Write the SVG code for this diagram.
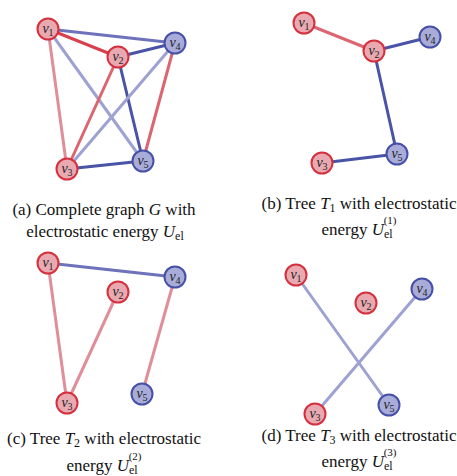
<svg xmlns="http://www.w3.org/2000/svg" width="457" height="476" viewBox="0 0 457 476">
<style>
.e{fill:none;stroke-width:3;stroke-linecap:round}
.rs{stroke:#d8404e}
.rm{stroke:#dc6572}
.rl{stroke:#e08e98}
.bs{stroke:#4a54a6}
.bm{stroke:#6d72ba}
.bl{stroke:#9ea2d2}
.nr circle{fill:#e8a9b1;stroke:#d5303e;stroke-width:2}
.nb circle{fill:#a9acd9;stroke:#4550a6;stroke-width:2}
.lab{font-size:14px;fill:#222;text-anchor:middle}
.cap{font-size:17px;fill:#111;text-anchor:middle}
</style>
<rect width="457" height="476" fill="#fff"/>
<g font-family="'Liberation Serif', 'Times New Roman', serif">
<!-- Panel a -->
<g id="edges-a">
<line class="e rl" x1="48" y1="29" x2="67" y2="169"/>
<line class="e bl" x1="48" y1="29" x2="143" y2="161"/>
<line class="e bm" x1="48" y1="29" x2="175" y2="43"/>
<line class="e rs" x1="48" y1="29" x2="118" y2="57"/>
<line class="e rm" x1="118" y1="57" x2="67" y2="169"/>
<line class="e bs" x1="118" y1="57" x2="143" y2="161"/>
<line class="e bs" x1="118" y1="57" x2="175" y2="43"/>
<line class="e bl" x1="175" y1="43" x2="67" y2="169"/>
<line class="e rm" x1="175" y1="43" x2="143" y2="161"/>
<line class="e bs" x1="67" y1="169" x2="143" y2="161"/>
</g>
<g id="a-v1" class="nr"><circle cx="48" cy="29" r="10.5"/><text class="lab" x="48" y="33"><tspan font-style="italic">v</tspan><tspan font-size="10" dy="3">1</tspan></text></g>
<g id="a-v2" class="nr"><circle cx="118" cy="57" r="10.5"/><text class="lab" x="118" y="61"><tspan font-style="italic">v</tspan><tspan font-size="10" dy="3">2</tspan></text></g>
<g id="a-v3" class="nr"><circle cx="67" cy="169" r="10.5"/><text class="lab" x="67" y="173"><tspan font-style="italic">v</tspan><tspan font-size="10" dy="3">3</tspan></text></g>
<g id="a-v4" class="nb"><circle cx="175" cy="43" r="10.5"/><text class="lab" x="175" y="47"><tspan font-style="italic">v</tspan><tspan font-size="10" dy="3">4</tspan></text></g>
<g id="a-v5" class="nb"><circle cx="143" cy="161" r="10.5"/><text class="lab" x="143" y="165"><tspan font-style="italic">v</tspan><tspan font-size="10" dy="3">5</tspan></text></g>
<text class="cap" x="104" y="215">(a) Complete graph <tspan font-style="italic">G</tspan> with</text>
<text class="cap" x="105" y="237">electrostatic energy <tspan font-style="italic">U</tspan><tspan font-size="12" dy="3">el</tspan></text>

<!-- Panel b -->
<g id="edges-b">
<line class="e rm" x1="304" y1="23" x2="374" y2="51"/>
<line class="e bs" x1="374" y1="51" x2="430" y2="37"/>
<line class="e bs" x1="374" y1="51" x2="397" y2="154"/>
<line class="e bs" x1="322" y1="163" x2="397" y2="154"/>
</g>
<g id="b-v1" class="nr"><circle cx="304" cy="23" r="10.5"/><text class="lab" x="304" y="27"><tspan font-style="italic">v</tspan><tspan font-size="10" dy="3">1</tspan></text></g>
<g id="b-v2" class="nr"><circle cx="374" cy="51" r="10.5"/><text class="lab" x="374" y="55"><tspan font-style="italic">v</tspan><tspan font-size="10" dy="3">2</tspan></text></g>
<g id="b-v3" class="nr"><circle cx="322" cy="163" r="10.5"/><text class="lab" x="322" y="167"><tspan font-style="italic">v</tspan><tspan font-size="10" dy="3">3</tspan></text></g>
<g id="b-v4" class="nb"><circle cx="430" cy="37" r="10.5"/><text class="lab" x="430" y="41"><tspan font-style="italic">v</tspan><tspan font-size="10" dy="3">4</tspan></text></g>
<g id="b-v5" class="nb"><circle cx="397" cy="154" r="10.5"/><text class="lab" x="397" y="158"><tspan font-style="italic">v</tspan><tspan font-size="10" dy="3">5</tspan></text></g>
<text class="cap" x="359" y="209">(b) Tree <tspan font-style="italic">T</tspan><tspan font-size="12" dy="3">1</tspan><tspan dy="-3"> with electrostatic</tspan></text>
<text class="cap" x="359" y="235">energy <tspan font-style="italic">U</tspan><tspan font-size="12" dy="3">el</tspan><tspan font-size="11" dx="-9" dy="-14">(1)</tspan></text>

<!-- Panel c -->
<g id="edges-c">
<line class="e bm" x1="48" y1="263" x2="175" y2="277"/>
<line class="e rl" x1="48" y1="263" x2="67" y2="403"/>
<line class="e rl" x1="118" y1="292" x2="67" y2="403"/>
<line class="e rl" x1="175" y1="277" x2="142" y2="394"/>
</g>
<g id="c-v1" class="nr"><circle cx="48" cy="263" r="10.5"/><text class="lab" x="48" y="267"><tspan font-style="italic">v</tspan><tspan font-size="10" dy="3">1</tspan></text></g>
<g id="c-v2" class="nr"><circle cx="118" cy="292" r="10.5"/><text class="lab" x="118" y="296"><tspan font-style="italic">v</tspan><tspan font-size="10" dy="3">2</tspan></text></g>
<g id="c-v3" class="nr"><circle cx="67" cy="403" r="10.5"/><text class="lab" x="67" y="407"><tspan font-style="italic">v</tspan><tspan font-size="10" dy="3">3</tspan></text></g>
<g id="c-v4" class="nb"><circle cx="175" cy="277" r="10.5"/><text class="lab" x="175" y="281"><tspan font-style="italic">v</tspan><tspan font-size="10" dy="3">4</tspan></text></g>
<g id="c-v5" class="nb"><circle cx="142" cy="394" r="10.5"/><text class="lab" x="142" y="398"><tspan font-style="italic">v</tspan><tspan font-size="10" dy="3">5</tspan></text></g>
<text class="cap" x="104" y="444">(c) Tree <tspan font-style="italic">T</tspan><tspan font-size="12" dy="3">2</tspan><tspan dy="-3"> with electrostatic</tspan></text>
<text class="cap" x="104" y="471">energy <tspan font-style="italic">U</tspan><tspan font-size="12" dy="3">el</tspan><tspan font-size="11" dx="-9" dy="-14">(2)</tspan></text>

<!-- Panel d -->
<g id="edges-d">
<line class="e bl" x1="296" y1="275" x2="389" y2="405"/>
<line class="e bl" x1="315" y1="414" x2="422" y2="289"/>
</g>
<g id="d-v1" class="nr"><circle cx="296" cy="275" r="10.5"/><text class="lab" x="296" y="279"><tspan font-style="italic">v</tspan><tspan font-size="10" dy="3">1</tspan></text></g>
<g id="d-v2" class="nr"><circle cx="366" cy="303" r="10.5"/><text class="lab" x="366" y="307"><tspan font-style="italic">v</tspan><tspan font-size="10" dy="3">2</tspan></text></g>
<g id="d-v3" class="nr"><circle cx="315" cy="414" r="10.5"/><text class="lab" x="315" y="418"><tspan font-style="italic">v</tspan><tspan font-size="10" dy="3">3</tspan></text></g>
<g id="d-v4" class="nb"><circle cx="422" cy="289" r="10.5"/><text class="lab" x="422" y="293"><tspan font-style="italic">v</tspan><tspan font-size="10" dy="3">4</tspan></text></g>
<g id="d-v5" class="nb"><circle cx="389" cy="405" r="10.5"/><text class="lab" x="389" y="409"><tspan font-style="italic">v</tspan><tspan font-size="10" dy="3">5</tspan></text></g>
<text class="cap" x="359" y="441">(d) Tree <tspan font-style="italic">T</tspan><tspan font-size="12" dy="3">3</tspan><tspan dy="-3"> with electrostatic</tspan></text>
<text class="cap" x="359" y="467">energy <tspan font-style="italic">U</tspan><tspan font-size="12" dy="3">el</tspan><tspan font-size="11" dx="-9" dy="-14">(3)</tspan></text>
</g>
</svg>
